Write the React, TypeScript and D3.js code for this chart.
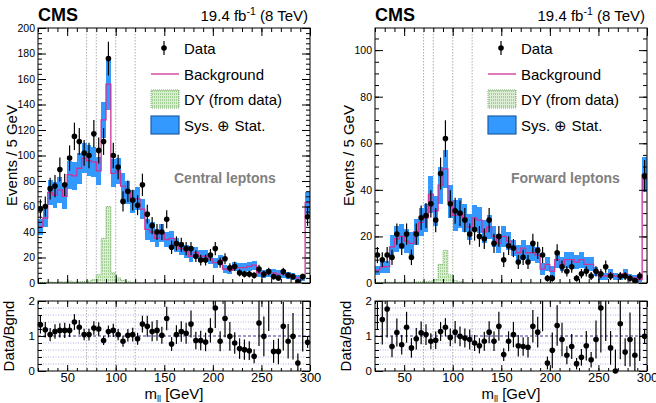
import React, { useEffect, useRef } from 'react';
import * as d3 from 'd3';

// 5 GeV bins from 20 to 300 GeV, the last bin collects the overflow
const massMin = 20;
const massMax = 300;
const binWidth = 5;

const xMajorTicks = [50, 100, 150, 200, 250, 300];
const zWindowLines = [70, 80, 100, 120];
const ratioTicks = [0, 1, 2];

// central leptons
const centralData = [58, 60, 74, 76, 89, 77, 98, 115, 111, 102, 100, 117, 104, 111, 176, 100, 91, 64, 72, 65, 61, 77, 54, 45, 40, 40, 50, 28, 31, 30, 27, 27, 21, 18, 18, 22, 27, 16, 19, 12, 13, 8, 7, 7, 6, 11, 7, 9, 5, 4, 9, 6, 5, 1, 5, 52];
const centralBkg = [44, 51, 71, 69, 73, 68, 85, 84, 90, 98, 96, 95, 88, 128, 156, 86, 88, 76, 71, 64, 66, 58, 42, 40, 35, 39, 34, 35, 30, 27, 25, 21, 24, 21, 21, 19, 16, 18, 11, 10, 13, 12, 12, 13, 14, 8, 7, 8, 8, 7, 7, 6, 5, 4, 4, 63];
const centralUnc = [6, 7, 10, 10, 10, 10, 11, 11, 12, 12, 12, 12, 11, 14, 20, 11, 10, 10, 9, 9, 9, 8, 8, 8, 7, 7, 6, 6, 5.5, 5, 5, 4.5, 4.5, 4.5, 4.5, 4, 4, 4, 3, 3, 3.5, 3.5, 3.5, 3.5, 3.5, 3, 3, 3, 3, 3, 3, 2.5, 2.5, 2.5, 2.5, 8.5];
const centralDY = [0.5, 0.5, 0.8, 0.5, 1, 0.8, 1.5, 0.8, 1, 1.2, 1.5, 2.6, 6.5, 35, 60, 8, 4, 2, 1, 0.5, 0.3, 0, 0, 0, 0, 0, 0, 0, 0, 0, 0, 0, 0, 0, 0, 0, 0, 0, 0, 0, 0, 0, 0, 0, 0, 0, 0, 0, 0, 0, 0, 0, 0, 0, 0, 0];
const centralRatio = [1.32, 1.18, 1.04, 1.13, 1.16, 1.16, 1.16, 1.40, 1.25, 1.04, 1.04, 1.23, 1.20, 0.87, 1.13, 1.16, 1.04, 0.85, 1.02, 1.04, 0.92, 1.34, 1.28, 1.13, 1.16, 1.02, 1.50, 0.77, 1.04, 1.13, 1.08, 1.34, 0.87, 0.87, 0.83, 1.16, 1.80, 0.85, 1.50, 0.99, 0.80, 0.64, 0.61, 0.58, 0.42, 1.37, 0.99, 2.3, 0.56, 0.56, 1.28, 0.85, 0.99, 0.23, 2.4, 0.82];

// forward leptons
const forwardData = [12, 10, 12, 11, 21, 16, 21, 11, 21, 28, 29, 34, 27, 47, 62, 34, 31, 30, 27, 21, 23, 20, 19, 27, 17, 20, 10, 16, 15, 9, 11, 9, 17, 14, 12, 2, 2, 13, 7, 5, 7, 2, 4, 5, 3, 5, 4, 7, 3, 0, 3, 3, 2, 1, 3, 46];
const forwardBkg = [5.5, 6.8, 7, 15.5, 19, 20, 18, 17, 22, 26, 28, 38, 31, 42, 49, 35, 29, 30, 28, 24, 28, 27, 22, 24, 20, 17, 20, 18, 15, 13, 15, 13, 13, 12, 6, 8, 5, 10, 8, 10, 10, 9, 10, 8, 8, 5, 3, 3, 4, 3, 2.5, 4, 2.5, 2.2, 1.5, 46.5];
const forwardUnc = [2, 2.5, 2.5, 5, 5.5, 5.5, 5, 5, 5.5, 6, 6, 8, 6.5, 8, 8, 7, 6.5, 6.5, 6, 5.5, 5.5, 5.5, 5, 5, 4.5, 4, 4.5, 4, 3.5, 3.5, 3.5, 3.5, 3.5, 3.5, 2.5, 3, 2.5, 3.5, 3, 3.5, 3.5, 3, 3.5, 3, 3, 2, 1.5, 1.5, 1.8, 1.5, 1.2, 1.8, 1.2, 1.2, 1, 7.5];
const forwardDY = [0.3, 0.3, 0.3, 0.3, 0.3, 0.3, 0.4, 0.3, 0.4, 0.5, 0.5, 0.8, 1.5, 8, 14, 3.5, 1, 0.5, 0.2, 0, 0, 0, 0, 0, 0, 0, 0, 0, 0, 0, 0, 0, 0, 0, 0, 0, 0, 0, 0, 0, 0, 0, 0, 0, 0, 0, 0, 0, 0, 0, 0, 0, 0, 0, 0, 0];
const forwardRatio = [2.2, 1.47, 1.77, 0.70, 1.10, 0.75, 1.25, 0.66, 0.92, 1.09, 1.04, 0.85, 0.88, 1.13, 1.25, 0.96, 1.11, 0.99, 0.94, 0.90, 0.80, 0.72, 0.85, 1.11, 0.85, 1.28, 0.47, 0.85, 1.04, 0.72, 0.70, 0.68, 1.28, 1.11, 2.3, 0.23, 0.59, 1.30, 0.90, 0.45, 0.70, 0.21, 0.39, 0.72, 0.32, 0.90, 1.80, 2.3, 0.66, 0, 1.35, 0.54, 0.90, 0.45, 2.4, 0.99];

const fontFamily = "'Liberation Sans', Arial, Helvetica, sans-serif";
const bandColor = '#3399ff';
const bkgColor = '#cc3399';
const mainTop = 28;
const mainBottom = 283;
const ratioTop = 301;
const ratioBottom = 371;

interface Panel {
  left: number;
  right: number;
  yMax: number;
  yMajor: number[];
  yMinor: number[];
  label: string;
  data: number[];
  bkg: number[];
  unc: number[];
  dy: number[];
  ratio: number[];
}

const panels: Panel[] = [
  {
    left: 38, right: 310, yMax: 200,
    yMajor: d3.range(0, 201, 20), yMinor: d3.range(0, 201, 4),
    label: 'Central leptons',
    data: centralData, bkg: centralBkg, unc: centralUnc, dy: centralDY, ratio: centralRatio,
  },
  {
    left: 375, right: 647, yMax: 109.5,
    yMajor: d3.range(0, 101, 20), yMinor: d3.range(0, 109, 5),
    label: 'Forward leptons',
    data: forwardData, bkg: forwardBkg, unc: forwardUnc, dy: forwardDY, ratio: forwardRatio,
  },
];

type G = d3.Selection<SVGGElement, unknown, null, undefined>;

// inward pointing ticks on one side of a frame
const ticks = (
  g: G, scale: d3.ScaleLinear<number, number>, side: 'left' | 'right' | 'top' | 'bottom',
  pos: number, values: number[], size: number, fontSize = 0, padding = 3,
) => {
  const make = { left: d3.axisLeft, right: d3.axisRight, top: d3.axisTop, bottom: d3.axisBottom }[side];
  const axis = make(scale).tickValues(values).tickSize(-size).tickPadding(padding)
    .tickFormat(fontSize ? d3.format('d') : () => '');
  const horizontal = side === 'top' || side === 'bottom';
  g.append('g')
    .attr('transform', horizontal ? `translate(0,${pos})` : `translate(${pos},0)`)
    .call(axis)
    .call(a => a.select('.domain').remove())
    .call(a => a.selectAll('line').attr('stroke', '#000').attr('stroke-width', 1))
    .call(a => a.selectAll('text').attr('font-family', fontFamily).attr('font-size', fontSize).attr('fill', '#000'));
};

const CmsDimuonPlots: React.FC = () => {
  const ref = useRef<SVGSVGElement | null>(null);

  useEffect(() => {
    const svg = d3.select(ref.current);
    svg.selectAll('*').remove();
    svg.attr('width', 656).attr('height', 403).attr('font-family', fontFamily);

    const defs = svg.append('defs');
    const pat = defs.append('pattern').attr('id', 'dyFill')
      .attr('patternUnits', 'userSpaceOnUse').attr('width', 2).attr('height', 3);
    pat.append('rect').attr('width', 2).attr('height', 3).attr('fill', '#dcefd5');
    pat.append('rect').attr('x', 0).attr('width', 1).attr('height', 2).attr('fill', '#a3cf96');

    panels.forEach((p, idx) => {
      const x = d3.scaleLinear().domain([massMin, massMax]).range([p.left, p.right]);
      const y = d3.scaleLinear().domain([0, p.yMax]).range([mainBottom, mainTop]);
      const yr = d3.scaleLinear().domain([0, 2]).range([ratioBottom, ratioTop]);
      const w = p.right - p.left;

      defs.append('clipPath').attr('id', `main${idx}`).append('rect')
        .attr('x', p.left).attr('y', mainTop).attr('width', w).attr('height', mainBottom - mainTop);
      defs.append('clipPath').attr('id', `ratio${idx}`).append('rect')
        .attr('x', p.left).attr('y', ratioTop).attr('width', w).attr('height', ratioBottom - ratioTop);

      const bins = p.data.map((n, i) => {
        const lo = massMin + i * binWidth;
        return { lo, hi: lo + binWidth, mid: lo + binWidth / 2, n, b: p.bkg[i], u: p.unc[i], dy: p.dy[i], r: p.ratio[i] };
      });
      const steps = (v: (d: typeof bins[number]) => number) =>
        bins.flatMap(d => [[d.lo, v(d)], [d.hi, v(d)]] as [number, number][]);

      // ---- main panel
      const main = svg.append('g').attr('clip-path', `url(#main${idx})`);

      zWindowLines.forEach(m => {
        main.append('line').attr('x1', x(m)).attr('x2', x(m)).attr('y1', mainTop).attr('y2', mainBottom)
          .attr('stroke', '#999').attr('stroke-width', 0.8).attr('stroke-dasharray', '1.5,1.5');
      });

      main.append('g').selectAll('rect').data(bins).enter().append('rect')
        .attr('x', d => x(d.lo)).attr('width', d => x(d.hi) - x(d.lo))
        .attr('y', d => y(d.b + d.u)).attr('height', d => y(d.b - d.u) - y(d.b + d.u))
        .attr('fill', bandColor).attr('shape-rendering', 'crispEdges');

      const dySteps = steps(d => d.dy);
      main.append('path').datum(dySteps)
        .attr('d', d3.area<[number, number]>().x(d => x(d[0])).y0(y(0)).y1(d => y(d[1])))
        .attr('fill', 'url(#dyFill)');
      main.append('path').datum(dySteps)
        .attr('d', d3.line<[number, number]>().x(d => x(d[0])).y(d => y(d[1])))
        .attr('fill', 'none').attr('stroke', '#5a9a4c').attr('stroke-width', 0.8).attr('stroke-dasharray', '1,1');

      main.append('path').datum(steps(d => d.b))
        .attr('d', d3.line<[number, number]>().x(d => x(d[0])).y(d => y(d[1])))
        .attr('fill', 'none').attr('stroke', bkgColor).attr('stroke-width', 1.3);

      const pts = bins.filter(d => d.n > 0);
      main.append('g').selectAll('line').data(pts).enter().append('line')
        .attr('x1', d => x(d.mid)).attr('x2', d => x(d.mid))
        .attr('y1', d => y(d.n - Math.sqrt(d.n))).attr('y2', d => y(d.n + Math.sqrt(d.n)))
        .attr('stroke', '#000').attr('stroke-width', 1.2);
      main.append('g').selectAll('circle').data(pts).enter().append('circle')
        .attr('cx', d => x(d.mid)).attr('cy', d => y(d.n)).attr('r', 2.8).attr('fill', '#000');

      // frame and ticks
      const axes = svg.append('g');
      ticks(axes, y, 'left', p.left, p.yMajor, 8, 10.5, 3);
      ticks(axes, y, 'left', p.left, p.yMinor, 4);
      ticks(axes, y, 'right', p.right, p.yMajor, 8);
      ticks(axes, y, 'right', p.right, p.yMinor, 4);
      ticks(axes, x, 'bottom', mainBottom, xMajorTicks, 8);
      ticks(axes, x, 'bottom', mainBottom, d3.range(20, 301, 10), 4);
      ticks(axes, x, 'top', mainTop, xMajorTicks, 8);
      ticks(axes, x, 'top', mainTop, d3.range(20, 301, 10), 4);
      svg.append('rect').attr('x', p.left).attr('y', mainTop).attr('width', w).attr('height', mainBottom - mainTop)
        .attr('fill', 'none').attr('stroke', '#000').attr('stroke-width', 1);

      // labels
      svg.append('text').attr('x', p.left).attr('y', 21).attr('font-size', 18).attr('font-weight', 'bold').text('CMS');
      const lumi = svg.append('text').attr('x', p.right - 2).attr('y', 21).attr('text-anchor', 'end').attr('font-size', 15);
      lumi.append('tspan').text('19.4 fb');
      lumi.append('tspan').attr('dy', -6).attr('font-size', 10.5).text('-1');
      lumi.append('tspan').attr('dy', 6).text(' (8 TeV)');

      svg.append('text').attr('transform', `translate(${p.left - 21},${(mainTop + mainBottom) / 2}) rotate(-90)`)
        .attr('text-anchor', 'middle').attr('font-size', 15).text('Events / 5 GeV');

      svg.append('text').attr('x', p.left + 136).attr('y', 183).attr('font-size', 14)
        .attr('font-weight', 'bold').attr('fill', '#808080').text(p.label);

      // legend
      const lg = svg.append('g').attr('transform', `translate(${p.left},0)`).attr('font-size', 15);
      lg.append('line').attr('x1', 126).attr('x2', 126).attr('y1', 41).attr('y2', 55).attr('stroke', '#000').attr('stroke-width', 1.2);
      lg.append('circle').attr('cx', 126).attr('cy', 48).attr('r', 2.8).attr('fill', '#000');
      lg.append('text').attr('x', 146).attr('y', 54).text('Data');
      lg.append('line').attr('x1', 113).attr('x2', 141).attr('y1', 74).attr('y2', 74).attr('stroke', bkgColor).attr('stroke-width', 1.3);
      lg.append('text').attr('x', 146).attr('y', 79.5).text('Background');
      lg.append('rect').attr('x', 113).attr('y', 90).attr('width', 28).attr('height', 18)
        .attr('fill', 'url(#dyFill)').attr('stroke', '#5a9a4c').attr('stroke-width', 0.8).attr('stroke-dasharray', '1,1');
      lg.append('text').attr('x', 146).attr('y', 105).text('DY (from data)');
      lg.append('rect').attr('x', 113).attr('y', 116).attr('width', 28).attr('height', 18)
        .attr('fill', bandColor).attr('stroke', '#1d5ea8').attr('stroke-width', 1.2);
      lg.append('text').attr('x', 146).attr('y', 130.5).text('Sys. \u2295 Stat.');

      // ---- ratio panel
      const rat = svg.append('g').attr('clip-path', `url(#ratio${idx})`);
      d3.range(0.2, 1.99, 0.2).forEach(v => {
        const unity = Math.abs(v - 1) < 1e-6;
        rat.append('line').attr('x1', p.left).attr('x2', p.right).attr('y1', yr(v)).attr('y2', yr(v))
          .attr('stroke', unity ? '#33339a' : '#9c9ce0').attr('stroke-width', unity ? 1 : 0.8)
          .attr('stroke-dasharray', unity ? '3,2' : '1,1.5');
      });
      zWindowLines.forEach(m => {
        rat.append('line').attr('x1', x(m)).attr('x2', x(m)).attr('y1', ratioTop).attr('y2', ratioBottom)
          .attr('stroke', '#999').attr('stroke-width', 0.8).attr('stroke-dasharray', '1.5,1.5');
      });

      const rErr = (d: typeof bins[number]) => d.n > 0
        ? [d.r * Math.sqrt(1 / d.n + (d.u / d.b) ** 2), d.r * Math.sqrt(1 / d.n + (d.u / d.b) ** 2)]
        : [0, 1.84 / d.b];
      rat.append('g').selectAll('line').data(bins).enter().append('line')
        .attr('x1', d => x(d.mid)).attr('x2', d => x(d.mid))
        .attr('y1', d => yr(d.r - rErr(d)[0])).attr('y2', d => yr(d.r + rErr(d)[1]))
        .attr('stroke', '#000').attr('stroke-width', 1.2);
      svg.append('g').selectAll('circle').data(bins.filter(d => d.r <= 2)).enter().append('circle')
        .attr('cx', d => x(d.mid)).attr('cy', d => yr(d.r)).attr('r', 2.8).attr('fill', '#000');

      const raxes = svg.append('g');
      ticks(raxes, yr, 'left', p.left, ratioTicks, 8, 11.5, 3);
      ticks(raxes, yr, 'left', p.left, d3.range(0, 2.01, 0.2), 4);
      ticks(raxes, yr, 'right', p.right, ratioTicks, 8);
      ticks(raxes, yr, 'right', p.right, d3.range(0, 2.01, 0.2), 4);
      ticks(raxes, x, 'bottom', ratioBottom, xMajorTicks, 6, 13, 2);
      ticks(raxes, x, 'bottom', ratioBottom, d3.range(20, 301, 10), 3);
      ticks(raxes, x, 'top', ratioTop, xMajorTicks, 6);
      ticks(raxes, x, 'top', ratioTop, d3.range(20, 301, 10), 3);
      svg.append('rect').attr('x', p.left).attr('y', ratioTop).attr('width', w).attr('height', ratioBottom - ratioTop)
        .attr('fill', 'none').attr('stroke', '#000').attr('stroke-width', 1);

      svg.append('text').attr('transform', `translate(${p.left - 24},${(ratioTop + ratioBottom) / 2}) rotate(-90)`)
        .attr('text-anchor', 'middle').attr('font-size', 15).text('Data/Bgnd');

      const xt = svg.append('text').attr('x', (p.left + p.right) / 2).attr('y', 399)
        .attr('text-anchor', 'middle').attr('font-size', 15);
      xt.append('tspan').text('m');
      xt.append('tspan').attr('dy', 3).attr('font-size', 9).text('ll');
      xt.append('tspan').attr('dy', -3).text(' [GeV]');
    });
  }, []);

  return (
    <div style={{ position: 'absolute', left: 0, top: 0, background: '#fff' }}>
      <svg ref={ref} style={{ display: 'block' }}></svg>
    </div>
  );
};

export default CmsDimuonPlots;
